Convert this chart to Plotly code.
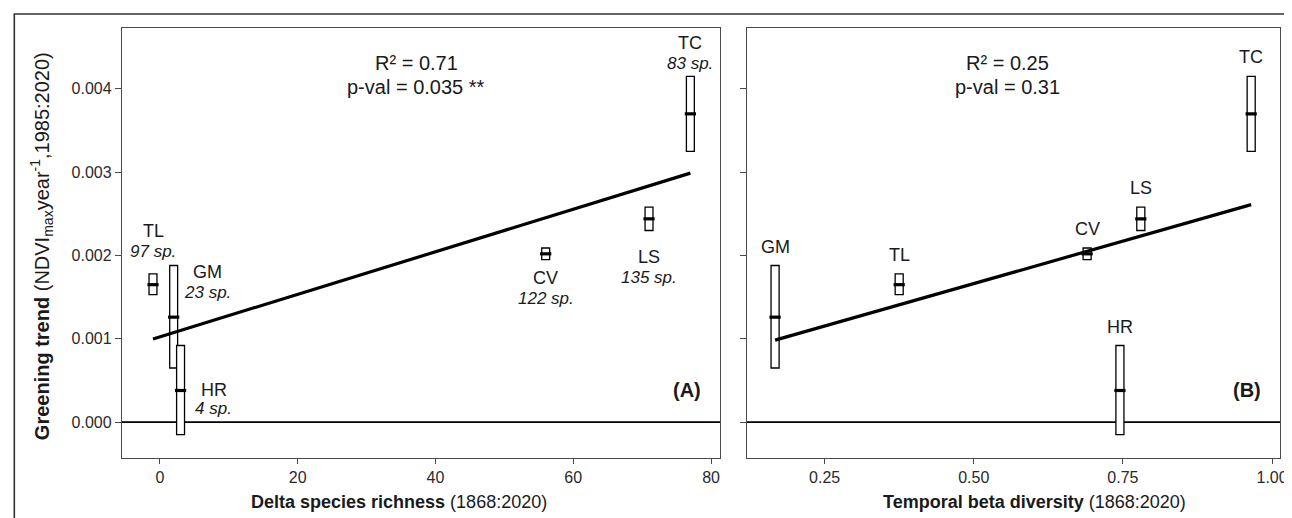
import numpy as np
import plotly.graph_objects as go

# ---------------- data ----------------
sites = ["TC", "TL", "GM", "HR", "CV", "LS"]
species_counts = ["83 sp.", "97 sp.", "23 sp.", "4 sp.", "122 sp.", "135 sp."]
delta_richness = [77, -1, 2, 3, 56, 71]
beta_diversity = [0.965, 0.375, 0.167, 0.745, 0.69, 0.78]
trend_q1 = [0.00325, 0.00153, 0.00065, -0.00015, 0.00195, 0.00230]
trend_median = [0.00370, 0.00165, 0.00126, 0.00038, 0.00202, 0.00244]
trend_q3 = [0.00415, 0.00178, 0.00188, 0.00092, 0.00209, 0.00258]
stats_a = ["R² = 0.71", "p-val = 0.035 **"]
stats_b = ["R² = 0.25", "p-val = 0.31"]
y_ticks = [0.000, 0.001, 0.002, 0.003, 0.004]
xa_ticks = [0, 20, 40, 60, 80]
xb_ticks = [0.25, 0.50, 0.75, 1.00]
xb_ticktext = ["0.25", "0.50", "0.75", "1.00"]

# ---------------- styling ----------------
FONT = "Liberation Sans, Arial, Helvetica, sans-serif"
W, H = 1292, 518
ML, MR, MT, MB = 114, 13, 20, 68
FRAME = "#4a4a4a"
BOXW_A = 1.15      # box width in panel A data units (~8 px)
BOXW_B = 0.0135    # box width in panel B data units (~8 px)

# label offsets (pixels): (reference edge, dx, dy_name, dy_species); dy positive = downward
label_a = {
    "TC": ("q3", 0, -33, -13),
    "TL": ("q3", 0, -43, -22),
    "GM": ("q3", 34, 6, 27),
    "HR": ("q3", 33, 44, 63),
    "CV": ("q1", 0, 18, 39),
    "LS": ("q1", 0, 26, 47),
}
label_b_dy = -19

fig = go.Figure()


def add_panel(xvals, xname, yname, boxw):
    # boxes (interquartile range)
    fig.add_trace(go.Bar(
        x=xvals, y=[b - a for a, b in zip(trend_q1, trend_q3)], base=trend_q1,
        width=boxw, xaxis=xname, yaxis=yname,
        marker=dict(color="white", line=dict(color="black", width=1.3)),
        showlegend=False, hoverinfo="skip"))
    # medians
    fig.add_trace(go.Scatter(
        x=xvals, y=trend_median, mode="markers", xaxis=xname, yaxis=yname,
        marker=dict(symbol="line-ew", size=8, color="black",
                    line=dict(color="black", width=3.2)),
        showlegend=False, hoverinfo="skip"))
    # regression line on medians
    slope, icpt = np.polyfit(xvals, trend_median, 1)
    xs = [min(xvals), max(xvals)]
    fig.add_trace(go.Scatter(
        x=xs, y=[icpt + slope * v for v in xs], mode="lines",
        xaxis=xname, yaxis=yname, line=dict(color="black", width=3.2),
        showlegend=False, hoverinfo="skip"))


add_panel(delta_richness, "x", "y", BOXW_A)
add_panel(beta_diversity, "x2", "y2", BOXW_B)

annotations = []
lbl_font = dict(family=FONT, size=18, color="#1a1a1a")
sp_font = dict(family=FONT, size=17, color="#1a1a1a")

# Panel A labels
for i, s in enumerate(sites):
    ref, dx, dy1, dy2 = label_a[s]
    yref_val = trend_q3[i] if ref == "q3" else trend_q1[i]
    annotations.append(dict(x=delta_richness[i], y=yref_val, xref="x", yref="y",
                            text=s, showarrow=False, xshift=dx, yshift=-dy1,
                            xanchor="center", yanchor="middle", font=lbl_font))
    annotations.append(dict(x=delta_richness[i], y=yref_val, xref="x", yref="y",
                            text="<i>" + species_counts[i] + "</i>", showarrow=False,
                            xshift=dx, yshift=-dy2, xanchor="center", yanchor="middle",
                            font=sp_font))
# Panel B labels
for i, s in enumerate(sites):
    annotations.append(dict(x=beta_diversity[i], y=trend_q3[i], xref="x2", yref="y2",
                            text=s, showarrow=False, yshift=-label_b_dy,
                            xanchor="center", yanchor="middle", font=lbl_font))

stat_font = dict(family=FONT, size=20, color="#1a1a1a")
for xr, st, xpos in (("x domain", stats_a, 0.4917), ("x2 domain", stats_b, 0.489)):
    annotations.append(dict(x=xpos, y=0.9186, xref=xr, yref="y domain", text=st[0],
                            showarrow=False, xanchor="center", yanchor="middle", font=stat_font))
    annotations.append(dict(x=xpos, y=0.862, xref=xr, yref="y domain", text=st[1],
                            showarrow=False, xanchor="center", yanchor="middle", font=stat_font))

panel_font = dict(family=FONT, size=20, color="#1a1a1a")
annotations.append(dict(x=0.971, y=0.159, xref="x domain", yref="y domain", text="<b>(A)</b>",
                        showarrow=False, xanchor="right", yanchor="middle", font=panel_font))
annotations.append(dict(x=0.9677, y=0.159, xref="x2 domain", yref="y2 domain", text="<b>(B)</b>",
                        showarrow=False, xanchor="right", yanchor="middle", font=panel_font))

title_font = dict(family=FONT, size=18, color="#1a1a1a")
annotations.append(dict(x=0.2393, y=-0.1023, xref="paper", yref="paper",
                        text="<b>Delta species richness</b> (1868:2020)", showarrow=False,
                        xanchor="center", yanchor="middle", font=title_font))
annotations.append(dict(x=0.788, y=-0.1023, xref="paper", yref="paper",
                        text="<b>Temporal beta diversity</b> (1868:2020)", showarrow=False,
                        xanchor="center", yanchor="middle", font=title_font))
annotations.append(dict(x=-0.0698, y=0.493, xref="paper", yref="paper", textangle=-90,
                        text="<b>Greening trend</b> (NDVI<sub>max</sub>year<sup>-1</sup>,1985:2020)",
                        showarrow=False, xanchor="center", yanchor="middle",
                        font=dict(family=FONT, size=20, color="#1a1a1a")))

shapes = [
    dict(type="line", xref="x domain", yref="y", x0=0, x1=1, y0=0, y1=0,
         line=dict(color="black", width=1.6), layer="below"),
    dict(type="line", xref="x2 domain", yref="y2", x0=0, x1=1, y0=0, y1=0,
         line=dict(color="black", width=1.6), layer="below"),
    dict(type="rect", xref="paper", yref="paper", x0=-0.093, x1=1.0094, y0=-0.2, y1=1.0326,
         line=dict(color="#333333", width=1.6), fillcolor="rgba(0,0,0,0)", layer="below"),
]

tick_font = dict(family=FONT, size=16, color="#2a2a2a")
common_x = dict(showline=True, mirror=True, linecolor=FRAME, linewidth=1.3, ticks="outside",
                ticklen=5, tickwidth=1, tickcolor=FRAME, showgrid=False, zeroline=False,
                tickfont=tick_font)
common_y = dict(showline=True, mirror=True, linecolor=FRAME, linewidth=1.3, ticks="outside",
                ticklen=6, tickwidth=1, tickcolor=FRAME, showgrid=False, zeroline=False,
                range=[-0.00043, 0.00473], tickvals=y_ticks, tickformat=".3f",
                tickfont=tick_font)

fig.update_layout(
    width=W, height=H,
    margin=dict(l=ML, r=MR, t=MT, b=MB),
    paper_bgcolor="white", plot_bgcolor="white",
    barmode="overlay",
    font=dict(family=FONT),
    xaxis=dict(domain=[0, 0.5164], range=[-5.5, 81.3], tickvals=xa_ticks, anchor="y", **common_x),
    xaxis2=dict(domain=[0.5395, 1], range=[0.1195, 1.0133], tickvals=xb_ticks,
                ticktext=xb_ticktext, anchor="y2", **common_x),
    yaxis=dict(anchor="x", **common_y),
    yaxis2=dict(anchor="x2", showticklabels=False, **common_y),
    annotations=annotations,
    shapes=shapes,
)

fig.write_html("out.html")
